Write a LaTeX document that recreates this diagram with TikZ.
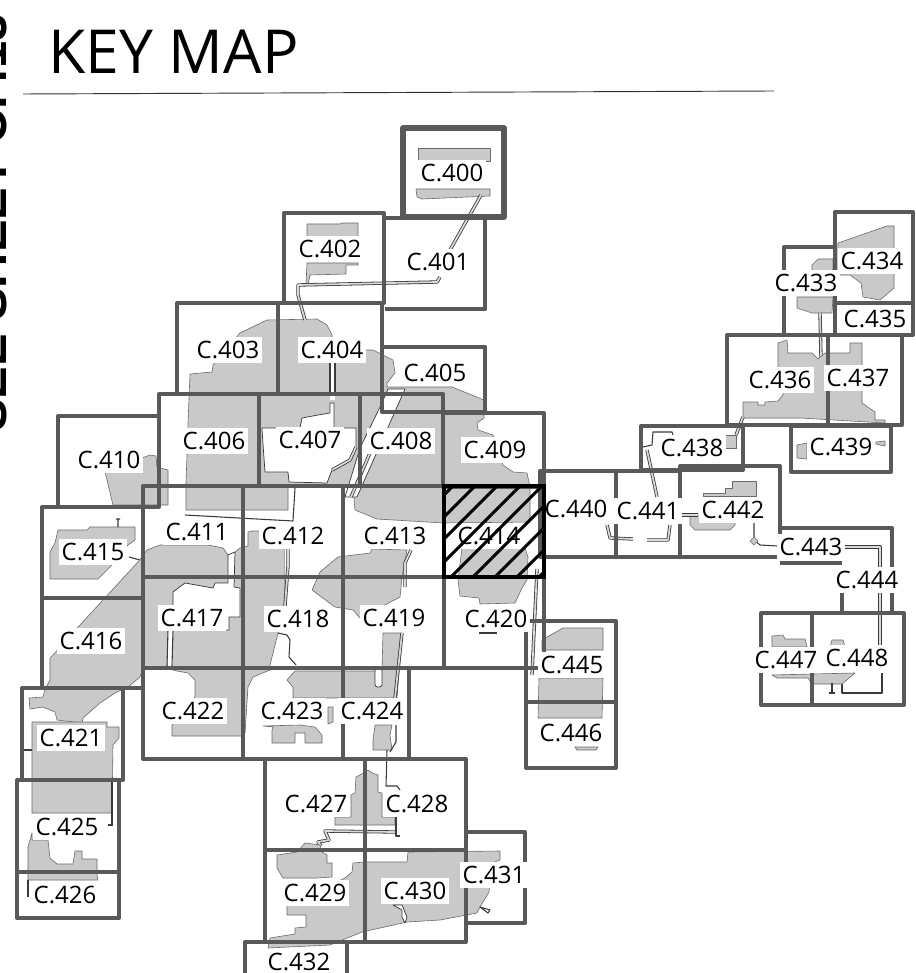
\documentclass[tikz,border=0pt]{standalone}
\usepackage{fontspec}
\setmainfont{Open Sans}
\newfontfamily\sidefont{Liberation Sans}
\definecolor{framegray}{HTML}{595959}
\definecolor{areagray}{HTML}{C9C9C9}
\definecolor{edgegray}{HTML}{3A3A3A}
\definecolor{softedge}{HTML}{6A6A6A}
\tikzset{
  mapframe/.style={draw=framegray,line width=3pt,line join=round},
  area/.style={fill=areagray,draw=softedge,line width=.45pt,line join=round},
  hole/.style={fill=white,draw=edgegray,line width=.55pt,line join=round},
  road/.style={draw=edgegray,line width=.6pt,double=white!85!black,double distance=1.3pt,line join=round},
  inkline/.style={draw=edgegray,line width=.8pt,line join=round},
  sheetlabel/.style={fill=white,inner xsep=2pt,inner ysep=3pt,text height=13pt,text depth=0pt,font=\fontsize{18}{20}\selectfont,text=black}
}
\begin{document}
\begin{tikzpicture}[x=.75pt,y=-.75pt]
\useasboundingbox (0,0) rectangle (915,973);
\clip (0,0) rectangle (915,973);
\fill[white] (0,0) rectangle (915,973);
% title
\node[anchor=base west,inner sep=0pt,font=\fontsize{45.5}{56}\selectfont] (title) at (48,74) {KEY MAP};
\node[anchor=base west,inner sep=0pt,rotate=90,font=\fontsize{36.6}{40}\sidefont\bfseries] (sidenote) at (7,432) {SEE SHEET C.413};
\draw[black!80,line width=.7pt] (23,94) -- (774,91);
% grey areas
\fill[area] (418,148) -- (490,148) -- (490,161) -- (418,161) -- cycle;
\fill[area] (416,189) -- (490,189) -- (490,196) -- (422,199) -- (417,197) -- cycle;
\fill[area] (307,224) -- (340,224) -- (342,223) -- (358,223) -- (358,242) -- (307,242) -- cycle;
\fill[area] (307,263) -- (358,263) -- (358,265) -- (346,265) -- (346,274) -- (310,275) -- (308,285) -- (306,285) -- cycle;
% main upper mass
\fill[area] (240,333) -- (267,320) -- (317,319) -- (327,325) -- (332,335) -- (332,350) -- (373,350) -- (393,360) -- (395,373) -- (387,383) -- (387,387) -- (452,387) -- (484,400) -- (484,418) -- (477,423) -- (478,430) -- (493,435) -- (503,465) -- (513,472) -- (527,473) -- (530,487) -- (530,522) -- (444,523) -- (377,519) -- (355,510) -- (353,487) -- (288,487) -- (288,510) -- (186,510) -- (186,483) -- (187,455) -- (188,423) -- (190,374) -- (212,372) -- (213,365) -- cycle;
% holes in upper mass
\fill[hole] (262,430) -- (265,472) -- (288,472) -- (289,482) -- (327,483) -- (332,470) -- (350,460) -- (356,447) -- (356,428) -- (262,428) -- cycle;
\fill[hole] (300,428) -- (302,418) -- (318,415) -- (330,413) -- (330,403) -- (334,403) -- (334,428) -- cycle;
\fill[white] (330,362) rectangle (335,400);
\draw[inkline] (330,362) -- (330,396) (335,362) -- (335,396);
\fill[hole] (388,389) -- (405,389) -- (357,497) -- (345,497) -- (360,448) -- (381,405) -- cycle;
\draw[road] (370,453) -- (351,497);
\draw[road] (332,470) -- (350,460) -- (356,447);
\draw[inkline] (185,515) -- (293,521) -- (295,488);
% C.410
\fill[area] (150,455) -- (156,456) -- (157,467) -- (168,470) -- (168,505) -- (163,505) -- (113,505) -- (107,480) -- (105,472) -- cycle;
% C.415
\fill[area] (58,530) -- (87,530) -- (90,527) -- (135,527) -- (135,540) -- (128,545) -- (111,566) -- (98,579) -- (50,579) -- (50,552) -- (55,543) -- cycle;
\draw[inkline] (118,519) -- (118,527) (116,519) -- (120,519) (129,557) -- (140,560);
% big lower-left mass
\fill[area] (80,625) -- (138,562) -- (147,550) -- (160,545) -- (208,545) -- (223,548) -- (228,555) -- (235,552) -- (240,548) -- (248,546) -- (248,532) -- (252,531) -- (285,531) -- (285,605) -- (283,610) -- (278,633) -- (270,665) -- (270,670) -- (253,677) -- (248,687) -- (245,733) -- (241,736) -- (172,736) -- (172,725) -- (195,697) -- (195,680) -- (188,673) -- (177,671) -- (165,668) -- (143,668) -- (140,677) -- (128,687) -- (115,693) -- (100,703) -- (83,718) -- (82,723) -- (57,720) -- (55,712) -- (43,707) -- (30,709) -- (29,698) -- (43,697) -- (45,689) -- (50,680) -- (50,658) -- (53,655) -- cycle;
\fill[hole] (228,555) -- (235,552) -- (234,587) -- (240,588) -- (240,617) -- (229,617) -- (229,630) -- (173,630) -- (173,592) -- (185,583) -- (213,588) -- (215,583) -- (228,583) -- cycle;
\fill[white] (168,630) rectangle (173,668);
\draw[inkline] (168,630) -- (167,666) (173,630) -- (172,666);
% road strip in C.412/C.418
\fill[white] (285,549) rectangle (290,606);
\draw[road] (288,549) -- (288,566) -- (285,606);
\draw[inkline] (278,633) -- (287,635) -- (290,640) -- (289,657) -- (296,665);
% C.413-C.419 blob
\fill[area] (372,549) -- (370,553) -- (338,557) -- (320,572) -- (312,590) -- (335,607) -- (353,610) -- (360,618) -- (400,597) -- (402,577) -- (407,550) -- cycle;
\draw[road] (411,550) -- (405,563) -- (405,587);
% C.423 / C.424
\fill[area] (383,633) -- (402,633) -- (397,698) -- (342,698) -- (293,698) -- (293,687) -- (287,680) -- (295,671) -- (382,671) -- cycle;
\fill[hole,rounded corners=2pt] (375,668) rectangle (382,687);
\fill[area] (328,707) -- (333,707) -- (333,722) -- (328,724) -- cycle;
\fill[area] (375,725) -- (392,725) -- (390,735) -- (392,750) -- (373,750) -- (373,740) -- cycle;
\draw[road] (402,633) -- (395,698);
\draw[inkline] (396,725) -- (396,742) -- (390,752);
\draw[inkline] (387,750) -- (386,786) -- (397,786) -- (400,790);
\fill[area] (263,726) -- (273,727) -- (272,730) -- (272,743) -- (295,743) -- (295,733) -- (305,733) -- (305,743) -- (322,743) -- (322,735) -- (315,727) -- (300,725) -- cycle;
% C.421 and C.425
\fill[area] (32,722) -- (107,722) -- (107,727) -- (119,727) -- (119,738) -- (113,745) -- (112,813) -- (32,813) -- cycle;
\draw[inkline] (112,780) -- (112,825) (108,825) -- (113,825) (23,750) -- (32,750);
\fill[area] (32,833) -- (32,840) -- (48,840) -- (50,858) -- (57,864) -- (73,864) -- (75,851) -- (82,851) -- (82,859) -- (97,859) -- (97,875) -- (98,880) -- (28,880) -- (28,847) -- cycle;
\draw[inkline] (28,880) -- (28,897);
% C.427 to C.431
\fill[area] (368,770) -- (372,773) -- (378,775) -- (378,792) -- (382,793) -- (382,817) -- (395,817) -- (395,825) -- (335,825) -- (335,817) -- (351,817) -- (351,795) -- (355,793) -- (356,777) -- (360,775) -- cycle;
\draw[road] (395,832) -- (325,831) -- (329,840) -- (318,842) -- (321,846);
\draw[inkline] (396,816) -- (396,836) -- (400,836);
\fill[area] (277,855) -- (297,852) -- (305,843) -- (320,845) -- (322,852) -- (327,855) -- (327,863) -- (332,863) -- (332,877) -- (317,878) -- (283,878) -- (277,868) -- cycle;
\fill[area] (353,863) -- (365,862) -- (407,862) -- (408,852) -- (500,851) -- (500,860) -- (492,863) -- (489,892) -- (480,907) -- (477,913) -- (440,920) -- (407,922) -- (362,932) -- (330,945) -- (268,948) -- (270,938) -- (295,934) -- (295,928) -- (306,927) -- (306,915) -- (287,915) -- (287,905) -- (345,878) -- (352,872) -- cycle;
\fill[hole] (393,905) -- (402,905) -- (407,917) -- (405,923) -- (402,917) -- (402,910) -- cycle;
\draw[inkline] (480,907) -- (490,910) -- (488,913) -- cycle;
% C.414 / C.420 lower part
\fill[area] (462,548) -- (525,548) -- (528,557) -- (527,580) -- (522,588) -- (515,603) -- (480,604) -- (479,598) -- (460,596) -- (458,580) -- cycle;
\draw[road] (537,569) -- (532,675);
\draw[inkline] (479,633) -- (497,633);
% C.433 to C.437
\fill[area] (838,243) -- (887,226) -- (894,226) -- (894,288) -- (880,300) -- (863,297) -- (861,283) -- (850,275) -- (838,275) -- cycle;
\fill[area] (812,272) -- (812,265) -- (818,259) -- (833,259) -- (833,272) -- cycle;
\fill[area] (797,297) -- (833,297) -- (832,313) -- (812,313) -- (797,308) -- cycle;
\draw[road] (820,313) -- (821,358);
\fill[area] (778,343) -- (787,340) -- (788,353) -- (812,353) -- (818,359) -- (825,353) -- (850,353) -- (850,343) -- (862,343) -- (862,403) -- (875,412) -- (875,420) -- (885,420) -- (885,423) -- (800,418) -- (743,418) -- (743,402) -- (758,402) -- (758,405) -- (765,405) -- (765,402) -- (778,401) -- (783,395) -- (783,370) -- (778,370) -- cycle;
% C.438, C.439
\fill[area] (725,435) -- (736,435) -- (736,448) -- (725,448) -- cycle;
\draw[road] (743,417) -- (736,435);
\draw[inkline] (673,435) -- (672,432) -- (653,432) -- (652,445) -- (643,447);
\draw[road] (647,450) -- (657,497);
\fill[area] (797,445) -- (807,443) -- (807,459) -- (797,458) -- cycle;
\fill[area] (876,442) -- (885,441) -- (885,446) -- (876,444) -- cycle;
% C.440 - C.442
\draw[road] (607,525) -- (610,538) -- (633,539);
\draw[road] (647,540) -- (668,540) -- (670,525);
\fill[area] (703,493) -- (725,493) -- (725,488) -- (732,488) -- (732,481) -- (756,481) -- (756,496) -- (703,496) -- cycle;
\fill[area] (690,515) -- (705,515) -- (705,522) -- (735,522) -- (735,525) -- (730,530) -- (695,530) -- (690,525) -- cycle;
\draw[road] (682,515) -- (698,515);
\draw[inkline] (754,522) -- (754,540) -- (760,545) -- (777,546);
\fill[area] (754,537) -- (758,541) -- (754,545) -- (750,541) -- cycle;
% C.443 - C.448
\draw[road] (845,547) -- (880,547) -- (880,645);
\draw[inkline] (882,673) -- (882,693) -- (842,693) -- (842,683);
\fill[area] (772,647) -- (772,636) -- (783,635) -- (785,639) -- (805,639) -- (807,647) -- cycle;
\fill[area] (772,675) -- (777,678) -- (808,678) -- (812,684) -- (842,684) -- (855,673) -- cycle;
\fill[area] (830,647) -- (832,640) -- (843,640) -- (845,647) -- cycle;
\draw[inkline] (832,683) -- (832,693) (829,693) -- (835,693);
% C.445, C.446
\fill[area] (542,640) -- (563,628) -- (603,628) -- (603,650) -- (542,650) -- cycle;
\fill[area] (539,678) -- (603,678) -- (602,718) -- (538,718) -- cycle;
\fill[area] (575,747) -- (598,747) -- (596,750) -- (577,750) -- cycle;
% roads at the top
\draw[road] (481,195) -- (450,250);
\draw[road] (440,277) -- (437,282) -- (298,285) -- (298,295) -- (305,320);
% frames
\foreach \xa/\ya/\xb/\yb in {
  284/213/384/303, 177/303/278/394, 278/303/382/394, 382/347/485/412,
  159/394/259/486, 259/394/360/486, 360/394/443/486, 443/413/544/487,
  58/416/159/507, 143/486/243/577, 243/486/343/577, 343/486/444/577,
  42/507/143/598, 42/598/143/688, 143/577/243/668, 243/577/343/668, 343/577/444/668, 444/577/544/668,
  22/688/123/780, 143/668/243/759, 243/668/343/759, 343/668/409/759,
  17/780/119/872, 17/872/119/918, 265/759/365/850, 365/759/466/850, 265/850/365/942, 365/850/466/942,
  466/832/525/923, 245/942/347/985,
  784/247/835/335, 835/212/913/303, 835/303/913/335, 727/335/828/425, 828/335/902/425,
  641/426/743/470, 791/426/891/472, 540/471/616/557, 616/471/680/557, 680/466/780/557,
  761/613/812/705, 812/613/904/705, 526/621/616/702, 526/702/616/768}
  {\draw[mapframe] (\xa,\ya) rectangle (\xb,\yb);}
\draw[mapframe] (385,218) -- (485,218) -- (485,309) -- (385,309);
\draw[mapframe] (780,557) -- (780,528) -- (892,528) -- (892,613);
\draw[mapframe] (780,563) -- (842,563) (842,590) -- (842,613);
\draw[draw=framegray,line width=4pt,fill=none,line join=round] (403,128) rectangle (504,217);
% labels
\foreach \n/\x/\y in {
  400/452/173, 401/438/262, 402/330/249, 403/228/350, 404/332/350, 405/435/373,
  406/214/441, 407/310/440, 408/401/441, 409/495/450, 410/109/460, 411/197/532,
  412/293/536, 413/395/536, 414/489/536, 415/93/552, 416/91/641, 417/192/618,
  418/298/619, 419/394/618, 420/496/619, 421/71/738, 422/193/711, 423/292/711,
  424/372/711, 425/67/827, 426/65/895, 427/316/804, 428/417/804, 429/315/893,
  430/415/891, 431/494/875, 432/299/962, 433/806/283, 434/872/261, 435/875/319,
  436/780/380, 437/858/378, 438/692/448, 439/841/447, 440/576/509, 441/648/511,
  442/733/510, 443/811/547, 444/867/580, 445/572/665, 446/571/733, 447/786/660, 448/857/658}
  {\node[sheetlabel] (s\n) at (\x,\y) {C.\n};}
% highlighted sheet
\begin{scope}
  \clip (444,486) rectangle (544,577);
  \foreach \t in {453,475,497,520,542,564,586,608,630}
    {\draw[black,line width=2.2pt] (\t,486) -- (\t-91,577);}
\end{scope}
\draw[black,line width=3pt] (444,486) rectangle (544,577);
\end{tikzpicture}
\end{document}
